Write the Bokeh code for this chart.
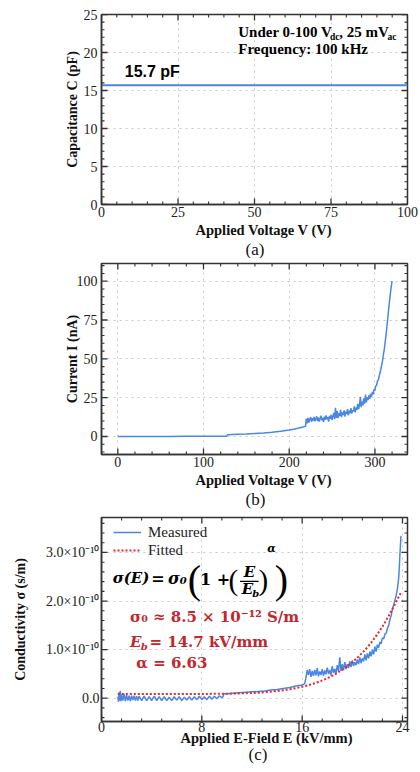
import math
from bokeh.plotting import figure
from bokeh.models import (SingleIntervalTicker, Label, Title, Legend,
                          LegendItem, BoxAnnotation, Range1d)
from bokeh.layouts import column
from bokeh.embed import file_html
from bokeh.resources import INLINE

# ---------------- data ----------------
# (a) capacitance vs applied DC voltage
cap_v = [0, 10, 20, 30, 40, 50, 60, 70, 80, 90, 100]
cap_pf = [15.7, 15.7, 15.7, 15.7, 15.7, 15.7, 15.7, 15.7, 15.7, 15.7, 15.7]

# (b) current vs applied voltage
iv_v = [0, 20, 40, 60, 80, 100, 120, 127, 128, 140, 150, 160, 170, 180, 190,
        200, 205, 210, 215, 219] + list(range(220, 321))
iv_na = [0.0, 0.0, 0.05, 0.05, 0.1, 0.1, 0.15, 0.2, 1.1, 1.4, 1.6, 1.9, 2.2, 2.7, 3.3,
         4.2, 4.7, 5.3, 6.0, 6.5,
         11.5, 8.5, 12.0, 9.0, 11.0, 12.5, 9.5, 11.8, 10.2, 12.6,
         9.8, 11.2, 13.0, 10.0, 12.2, 9.6, 11.6, 13.4, 10.4, 12.0,
         9.2, 12.8, 10.8, 13.6, 11.0, 12.4, 9.6, 13.2, 11.4, 14.0,
         10.6, 13.0, 15.2, 11.2, 18.5, 12.0, 16.4, 11.8, 15.0, 13.2,
         17.2, 12.4, 15.6, 13.8, 16.8, 12.8, 16.0, 14.4, 17.6, 13.6,
         16.6, 15.0, 18.2, 14.8, 17.0, 16.2, 19.4, 15.6, 18.6, 17.2,
         21.0, 17.6, 20.2, 25.5, 18.8, 22.4, 20.0, 24.6, 21.2, 27.0,
         22.0, 25.2, 23.4, 26.4, 24.2, 27.6, 25.6, 28.8, 27.2, 30.4,
         29.6, 32.6, 33.0, 35.8, 36.4, 39.0, 41.0, 43.6, 46.4, 49.0,
         53.0, 56.4, 61.0, 65.6, 71.0, 76.4, 82.0, 87.0, 92.0, 96.5,
         100.0]

# (c) conductivity (units of 1e-10 S/m) vs applied field (kV/mm)
cond_e = [1.30, 1.35, 1.40, 1.45, 1.50, 1.55, 1.60, 1.70, 1.80, 1.90,
          2.00, 2.10, 2.20, 2.30, 2.40, 2.50, 2.60, 2.70, 2.80, 2.90,
          3.00, 3.20, 3.40, 3.60, 3.80, 4.00, 4.20, 4.40, 4.60, 4.80,
          5.00, 5.20, 5.40, 5.60, 5.80, 6.00, 6.20, 6.40, 6.60, 6.80,
          7.00, 7.20, 7.40, 7.60, 7.80, 8.00, 8.20, 8.40, 8.60, 8.80,
          9.00, 9.20, 9.40, 9.60, 9.70, 9.75, 10.0, 10.5, 11.0, 11.5,
          12.0, 12.5, 13.0, 13.5, 14.0, 14.5, 15.0, 15.5, 16.0, 16.2,
          16.3, 16.4, 16.5, 16.6, 16.7, 16.8, 16.9, 17.0, 17.1, 17.2,
          17.3, 17.4, 17.5, 17.6, 17.7, 17.8, 17.9, 18.0, 18.1, 18.2,
          18.3, 18.4, 18.5, 18.6, 18.7, 18.8, 18.9, 19.0, 19.1, 19.2,
          19.3, 19.4, 19.5, 19.6, 19.7, 19.8, 19.9, 20.0, 20.1, 20.2,
          20.3, 20.4, 20.5, 20.6, 20.7, 20.8, 20.9, 21.0, 21.1, 21.2,
          21.3, 21.4, 21.5, 21.6, 21.7, 21.8, 21.9, 22.0, 22.1, 22.2,
          22.3, 22.4, 22.5, 22.6, 22.7, 22.8, 22.9, 23.0, 23.1, 23.2,
          23.3, 23.4, 23.5, 23.6, 23.7, 23.75, 23.8, 23.88]
cond_meas = [0.03, -0.07, 0.12, -0.05, 0.15, -0.06, 0.08, -0.05, 0.09, -0.06,
             0.06, -0.05, 0.05, -0.06, 0.05, -0.04, 0.05, -0.05, 0.04, -0.05,
             0.04, -0.05, 0.04, -0.05, 0.03, -0.05, 0.04, -0.05, 0.03, -0.05,
             0.03, -0.05, 0.02, -0.05, 0.03, -0.04, 0.03, -0.05, 0.02, -0.04,
             0.03, -0.04, 0.03, -0.03, 0.04, -0.03, 0.03, -0.03, 0.04, -0.02,
             0.04, -0.01, 0.05, 0.01, 0.04, 0.09, 0.09, 0.10, 0.11, 0.12,
             0.13, 0.14, 0.15, 0.17, 0.18, 0.20, 0.22, 0.25, 0.27, 0.30,
             0.42, 0.58, 0.48, 0.60, 0.44, 0.56, 0.46, 0.58, 0.47, 0.62,
             0.45, 0.55, 0.48, 0.60, 0.46, 0.57, 0.49, 0.63, 0.50, 0.58,
             0.47, 0.66, 0.52, 0.60, 0.50, 0.68, 0.55, 0.84, 0.56, 0.70,
             0.58, 0.74, 0.60, 0.70, 0.62, 0.76, 0.64, 0.78, 0.66, 0.74,
             0.68, 0.80, 0.70, 0.84, 0.72, 0.82, 0.76, 0.90, 0.78, 0.92,
             0.82, 0.96, 0.86, 1.00, 0.90, 1.06, 0.96, 1.10, 1.04, 1.16,
             1.12, 1.24, 1.22, 1.32, 1.34, 1.44, 1.50, 1.62, 1.70, 1.84,
             1.92, 2.02, 2.12, 2.26, 2.48, 2.70, 2.98, 3.34]
fit_e = [1.3, 4.0, 6.0, 8.0, 10.0, 12.0, 13.0, 14.0, 15.0, 16.0, 16.5, 17.0, 17.5,
         18.0, 18.5, 19.0, 19.5, 20.0, 20.5, 21.0, 21.5, 22.0, 22.5, 23.0, 23.25,
         23.5, 23.88]
fit_cond = [0.085, 0.085, 0.085, 0.087, 0.092, 0.107, 0.123, 0.147, 0.182, 0.234,
            0.268, 0.308, 0.355, 0.410, 0.475, 0.551, 0.638, 0.740, 0.856, 0.990,
            1.142, 1.317, 1.514, 1.738, 1.861, 1.991, 2.17]
cond_tick_labels = {0: "0.0", 1: "1.0×10⁻¹⁰", 2: "2.0×10⁻¹⁰", 3: "3.0×10⁻¹⁰"}

# tick positions (major) for the inward tick marks on all four edges
a_xmaj = [0, 25, 50, 75, 100]
a_ymaj = [0, 5, 10, 15, 20, 25]
b_xmaj = [0, 100, 200, 300]
b_ymaj = [0, 25, 50, 75, 100]
c_xmaj = [0, 8, 16, 24]
c_ymaj = [0, 1, 2, 3]

# ---------------- style ----------------
SERIF = "Liberation Serif"
MATH = "DejaVu Serif"
FRAME = "#333333"
GRID = "#c8c8c8"
BLUE = "#4a87e4"
RED = "#e5262c"
RED_T = "#c2272d"


def minors(major, lo, hi, n=5):
    step = (major[1] - major[0]) / n
    out = []
    k = math.floor((lo - major[0]) / step)
    while major[0] + k * step <= hi:
        v = round(major[0] + k * step, 6)
        if lo <= v <= hi and k % n != 0:
            out.append(v)
        k += 1
    return out


def base(height, xr, yr, xmaj, ymaj, bl, br, bt, bb, ylabel, ystand, xstand):
    p = figure(width=420, height=height, x_range=Range1d(*xr), y_range=Range1d(*yr),
               output_backend="svg", toolbar_location=None,
               min_border_left=bl, min_border_right=br, min_border_top=bt,
               min_border_bottom=bb)
    p.background_fill_color = "white"
    p.border_fill_color = "white"
    xt = SingleIntervalTicker(interval=xmaj[1] - xmaj[0], num_minor_ticks=5)
    yt = SingleIntervalTicker(interval=ymaj[1] - ymaj[0], num_minor_ticks=5)
    bx = p.xaxis[0]
    ly = p.yaxis[0]
    bx.ticker = xt
    ly.ticker = yt
    p.xgrid.ticker = xt
    p.ygrid.ticker = yt
    p.grid.grid_line_color = GRID
    p.grid.grid_line_dash = "dotted"
    p.grid.grid_line_width = 1
    p.outline_line_color = FRAME
    p.outline_line_width = 1.5
    for ax in (bx, ly):
        ax.axis_line_color = FRAME
        ax.axis_line_width = 1.5
        ax.major_tick_line_color = None
        ax.minor_tick_line_color = None
        ax.major_tick_out = 0
        ax.minor_tick_out = 0
        ax.major_label_text_font = SERIF
        ax.major_label_text_font_size = "14px"
        ax.major_label_text_color = "#222222"
    bx.major_label_standoff = xstand
    ly.major_label_standoff = 4
    ly.axis_label = ylabel
    ly.axis_label_text_font = SERIF
    ly.axis_label_text_font_size = "14px"
    ly.axis_label_text_font_style = "bold"
    ly.axis_label_text_color = "#111111"
    ly.axis_label_standoff = ystand
    # inward tick marks on all four edges (half of each dash is clipped by the frame)
    xmin_ = minors(xmaj, xr[0], xr[1])
    ymin_ = minors(ymaj, yr[0], yr[1])
    for yv in yr:
        p.scatter(xmaj, [yv] * len(xmaj), marker="dash", size=12, angle=math.pi / 2,
                  line_color=FRAME, line_width=1.3)
        p.scatter(xmin_, [yv] * len(xmin_), marker="dash", size=6, angle=math.pi / 2,
                  line_color=FRAME, line_width=1.1)
    for xv in xr:
        p.scatter([xv] * len(ymaj), ymaj, marker="dash", size=12,
                  line_color=FRAME, line_width=1.3)
        p.scatter([xv] * len(ymin_), ymin_, marker="dash", size=6,
                  line_color=FRAME, line_width=1.1)
    return p, bx, ly


def add_titles(p, xlabel, xoff, cap, capoff, xstandoff=0, capstandoff=0, valign="bottom"):
    p.add_layout(Title(text=xlabel, align="left", offset=xoff, standoff=xstandoff,
                       vertical_align=valign,
                       text_font=SERIF, text_font_size="14.5px", text_font_style="bold",
                       text_color="#111111"), "below")
    p.add_layout(Title(text=cap, align="left", offset=capoff, standoff=capstandoff,
                       vertical_align=valign,
                       text_font=SERIF, text_font_size="17px", text_font_style="normal",
                       text_color="#111111"), "below")


def lab(p, x, y, text, size, color="black", style="bold", font=MATH, align="left"):
    p.add_layout(Label(x=x, y=y, text=text, text_font=font, text_font_size=size,
                       text_font_style=style, text_color=color, text_align=align,
                       text_baseline="alphabetic"))


# ---------------- (a) ----------------
pa, ax_a, ay_a = base(258, (0, 100), (0, 25), a_xmaj, a_ymaj, 101, 13, 14, 54,
                      "Capacitance C (pF)", 1, 2)
pa.line(cap_v, cap_pf, color=BLUE, line_width=2)
add_titles(pa, "Applied Voltage V (V)", 94, "(a)", 144)
lab(pa, 44.7, 22.64, "Under 0-100 V", "15px", font=SERIF)
lab(pa, 74.7, 22.03, "dc", "9.5px", font=SERIF)
lab(pa, 77.7, 22.64, ", 25 mV", "15px", font=SERIF)
lab(pa, 93.5, 22.03, "ac", "9.5px", font=SERIF)
lab(pa, 44.7, 20.41, "Frequency: 100 kHz", "15px", font=SERIF)
lab(pa, 7.6, 17.47, "15.7 pF", "16px", font="Liberation Sans")

# ---------------- (b) ----------------
pb, ax_b, ay_b = base(253, (-19, 338), (-11.6, 111.4), b_xmaj, b_ymaj, 101, 10, 5, 57,
                      "Current I (nA)", -6, 2)
pb.line(iv_v, iv_na, color=BLUE, line_width=1.5)
add_titles(pb, "Applied Voltage V (V)", 94, "(b)", 144)

# ---------------- (c) ----------------
pc, ax_c, ay_c = base(261, (0, 24.4), (-0.48, 3.72), c_xmaj, c_ymaj, 98, 0, 6, 51,
                      "Conductivity σ (s/m)", 15, 0)
ay_c.major_label_overrides = cond_tick_labels
ay_c.major_label_standoff = 2
r_meas = pc.line(cond_e, cond_meas, color=BLUE, line_width=1.5)
r_fit = pc.line(fit_e, fit_cond, color=RED, line_width=2, line_dash="2 2")
add_titles(pc, "Applied E-Field E (kV/mm)", 79, "(c)", 147,
           xstandoff=-10, capstandoff=4, valign="top")
legend = Legend(items=[LegendItem(label="Measured", renderers=[r_meas]),
                       LegendItem(label="Fitted", renderers=[r_fit])],
                location=(12, 162), padding=0, margin=0, spacing=0,
                glyph_width=28, glyph_height=18, label_height=18, label_standoff=7,
                label_text_font=SERIF, label_text_font_size="15px",
                label_text_color="#222222",
                border_line_alpha=0, background_fill_alpha=0)
pc.add_layout(legend)

# formula (black)
lab(pc, 0.89, 2.473, "σ(E)", "15px", style="bold italic")
lab(pc, 3.96, 2.473, "=", "16px")
lab(pc, 5.30, 2.473, "σ₀", "16px", style="bold italic")
lab(pc, 6.88, 2.446, "(", "40px", style="normal", font=SERIF)
lab(pc, 7.85, 2.453, "1 +", "16px")
lab(pc, 10.12, 2.425, "(", "29px", style="normal", font=SERIF)
lab(pc, 11.79, 2.596, "E", "15px", style="bold italic", align="center")
pc.add_layout(BoxAnnotation(left=11.05, right=12.52, bottom=2.39, top=2.42,
                            fill_color="black", fill_alpha=1, line_alpha=0))
lab(pc, 11.18, 2.255, "E", "15px", style="bold italic")
lab(pc, 12.02, 2.162, "b", "10px", style="bold italic")
lab(pc, 12.52, 2.425, ")", "29px", style="normal", font=SERIF)
lab(pc, 13.22, 3.079, "α", "11px", style="bold italic")
lab(pc, 13.82, 2.446, ")", "40px", style="normal", font=SERIF)

# fitted parameters (red)
lab(pc, 2.28, 1.671, "σ₀ ≈ 8.5 × 10⁻¹² S/m", "15px", color=RED_T)
lab(pc, 2.28, 1.158, "E", "15px", color=RED_T, style="bold italic")
lab(pc, 3.12, 1.054, "b", "10px", color=RED_T, style="bold italic")
lab(pc, 3.82, 1.158, "= 14.7 kV/mm", "15px", color=RED_T)
lab(pc, 2.78, 0.715, "α = 6.63", "15px", color=RED_T)

layout = column(pa, pb, pc, spacing=0)
open("out.html", "w").write(file_html(layout, INLINE))
